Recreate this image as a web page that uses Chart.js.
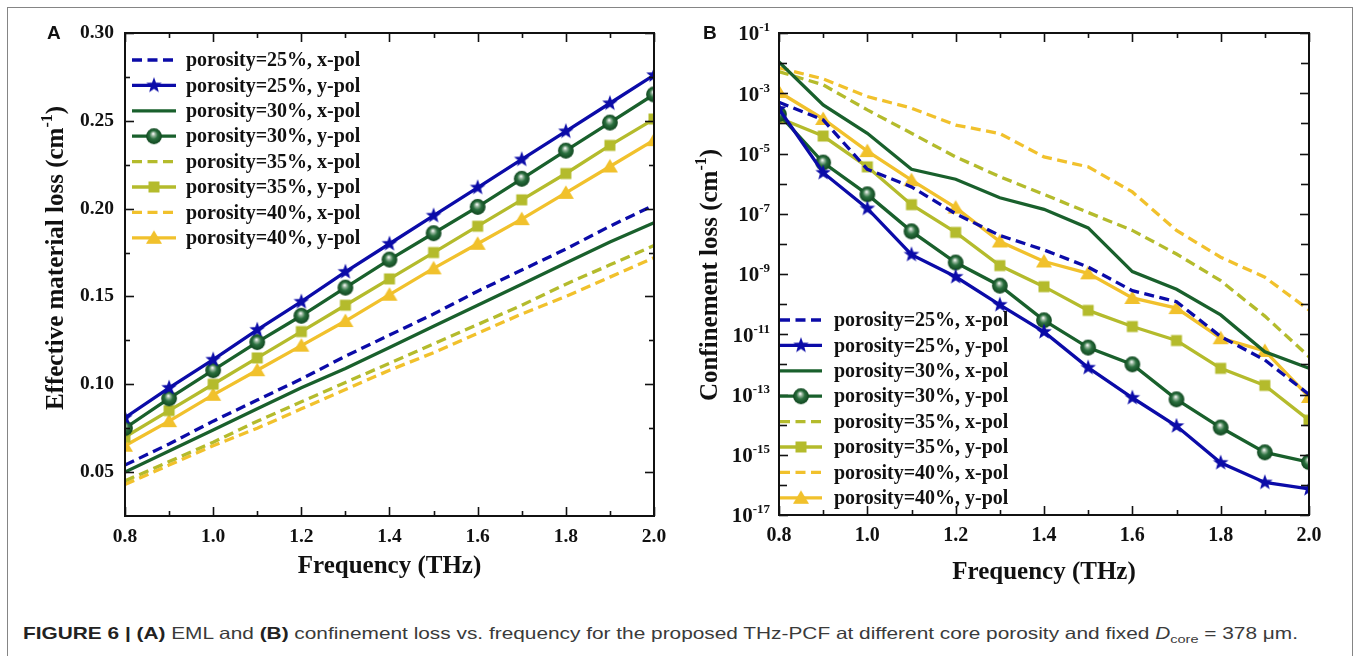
<!DOCTYPE html>
<html>
<head>
<meta charset="utf-8">
<title>Figure 6</title>
<script src="https://cdn.jsdelivr.net/npm/chart.js@4.4.1/dist/chart.umd.min.js"></script>
<style>
  html, body { margin: 0; padding: 0; background: #fff; }
  body { width: 1357px; height: 656px; position: relative; overflow: hidden; }
  #frame { position: absolute; left: 7px; top: 7px; width: 1346px; height: 660px; border: 1px solid #858585; box-sizing: border-box; }
  canvas { position: absolute; top: 0; }
  #chartA { left: 0; }
  #chartB { left: 680px; }
  .tag { position: absolute; top: 22px; font: bold 19px 'Liberation Sans', Arial, sans-serif; color: #111; line-height: 22px; }
  #caption { position: absolute; left: 23px; top: 623px; font: 16.5px 'Liberation Sans', Arial, sans-serif; color: #3a3a3a;
             white-space: nowrap; transform-origin: 0 50%; line-height: 20px; }
  #caption b { color: #222; }
  #caption sub { font-size: 11.5px; line-height: 0; }
</style>
</head>
<body>
<div id="frame"></div>
<canvas id="chartA" width="680" height="600"></canvas>
<canvas id="chartB" width="677" height="600"></canvas>
<div class="tag" style="left:47px">A</div>
<div class="tag" style="left:703px">B</div>
<div id="caption"><b>FIGURE 6 | (A)</b> EML and <b>(B)</b> confinement loss vs. frequency for the proposed THz-PCF at different core porosity and fixed <i>D</i><sub>core</sub> = 378 μm.</div>
<script>
// frequency points (THz)
const freq = [0.8, 0.9, 1.0, 1.1, 1.2, 1.3, 1.4, 1.5, 1.6, 1.7, 1.8, 1.9, 2.0];

const seriesLabels = [
  'porosity=25%, x-pol', 'porosity=25%, y-pol',
  'porosity=30%, x-pol', 'porosity=30%, y-pol',
  'porosity=35%, x-pol', 'porosity=35%, y-pol',
  'porosity=40%, x-pol', 'porosity=40%, y-pol',
];

// (A) effective material loss, cm^-1
const emlX25 = [0.054, 0.066, 0.079, 0.091, 0.103, 0.116, 0.128, 0.140, 0.153, 0.165, 0.177, 0.190, 0.202];
const emlY25 = [0.081, 0.098, 0.114, 0.131, 0.147, 0.164, 0.180, 0.196, 0.212, 0.228, 0.244, 0.260, 0.276];
const emlX30 = [0.050, 0.062, 0.074, 0.086, 0.098, 0.109, 0.121, 0.133, 0.145, 0.157, 0.169, 0.181, 0.192];
const emlY30 = [0.075, 0.092, 0.108, 0.124, 0.139, 0.155, 0.171, 0.186, 0.201, 0.217, 0.233, 0.249, 0.265];
const emlX35 = [0.045, 0.056, 0.067, 0.079, 0.090, 0.101, 0.112, 0.123, 0.134, 0.145, 0.157, 0.168, 0.179];
const emlY35 = [0.070, 0.085, 0.100, 0.115, 0.130, 0.145, 0.160, 0.175, 0.190, 0.205, 0.220, 0.236, 0.251];
const emlX40 = [0.043, 0.054, 0.065, 0.075, 0.086, 0.097, 0.108, 0.118, 0.129, 0.140, 0.150, 0.161, 0.172];
const emlY40 = [0.065, 0.079, 0.094, 0.108, 0.122, 0.136, 0.151, 0.166, 0.180, 0.194, 0.209, 0.224, 0.239];

// (B) confinement loss, cm^-1
const clX25 = [5e-4, 1.3e-4, 3e-6, 7.8e-7, 1.0e-7, 1.9e-8, 6.3e-9, 1.7e-9, 2.8e-10, 1.2e-10, 8.4e-12, 1.4e-12, 1.0e-13];
const clY25 = [3e-4, 2.3e-6, 1.5e-7, 4.4e-9, 8.1e-10, 9.5e-11, 1.2e-11, 7.8e-13, 7.8e-14, 9e-15, 5.4e-16, 1.2e-16, 7.4e-17];
const clX30 = [1.1e-2, 4.1e-4, 4.7e-5, 3.0e-6, 1.4e-6, 3.4e-7, 1.4e-7, 3.4e-8, 1.2e-9, 3.1e-10, 4.4e-11, 2.6e-12, 7.4e-13];
const clY30 = [2e-4, 5e-6, 4.4e-7, 2.6e-8, 2.4e-9, 4.1e-10, 2.9e-11, 3.6e-12, 1.0e-12, 6.9e-14, 8e-15, 1.2e-15, 5.7e-16];
const clX35 = [5.2e-3, 1.9e-3, 2.8e-4, 4.7e-5, 7.7e-6, 1.7e-6, 4.4e-7, 1.1e-7, 2.8e-8, 4.6e-9, 6e-10, 4e-11, 1.8e-12];
const clY35 = [1.5e-4, 3.8e-5, 3.6e-6, 2.0e-7, 2.4e-8, 1.9e-9, 3.8e-10, 6.2e-11, 1.8e-11, 6.2e-12, 7.4e-13, 2.0e-13, 1.4e-14];
const clX40 = [7e-3, 3e-3, 7.8e-4, 3.2e-4, 8.8e-5, 4.6e-5, 7.7e-6, 3.6e-6, 5.3e-7, 2.8e-8, 3.6e-9, 7.8e-10, 6.4e-11];
const clY40 = [1.1e-3, 1.4e-4, 1.2e-5, 1.3e-6, 1.6e-7, 1.2e-8, 2.6e-9, 1.05e-9, 1.6e-10, 7.4e-11, 7.4e-12, 2.8e-12, 8.3e-14];

// ticks
const freqTicks = [0.8, 1.0, 1.2, 1.4, 1.6, 1.8, 2.0];
const freqMinor = [0.9, 1.1, 1.3, 1.5, 1.7, 1.9];
const emlTicks = [0.05, 0.10, 0.15, 0.20, 0.25, 0.30];
const emlMinor = [0.075, 0.125, 0.175, 0.225, 0.275];
const clLabelExp = [-1, -3, -5, -7, -9, -11, -13, -15, -17];
const clMinorExp = [-2, -4, -6, -8, -10, -12, -14, -16];

const BLUE = '#0b0ba8';
const GREEN = '#19602c';
const OLIVE = '#b4bb2c';
const GOLD = '#f1c12c';
const INK = '#111';
const serif = "'Liberation Serif', 'Times New Roman', serif";

// marker sprites
const makeMarker = (size, draw) => {
  const c = document.createElement('canvas');
  c.width = c.height = size;
  draw(c.getContext('2d'), size / 2);
  return c;
};
const starMark = makeMarker(20, (ctx, c) => {
  ctx.beginPath();
  for (let i = 0; i < 10; i++) {
    const r = i % 2 ? 3.4 : 8.2;
    const a = -Math.PI / 2 + (i * Math.PI) / 5;
    ctx.lineTo(c + r * Math.cos(a), c + r * Math.sin(a));
  }
  ctx.closePath();
  ctx.fillStyle = BLUE;
  ctx.fill();
});
const ballMark = makeMarker(20, (ctx, c) => {
  const g = ctx.createRadialGradient(c - 0.8, c - 2.6, 0.4, c, c, 8);
  g.addColorStop(0, '#f4f7f4');
  g.addColorStop(0.22, '#8fb196');
  g.addColorStop(0.5, '#2a6f3e');
  g.addColorStop(1, '#0f451e');
  ctx.beginPath();
  ctx.arc(c, c, 7.9, 0, Math.PI * 2);
  ctx.fillStyle = g;
  ctx.fill();
});
const squareMark = makeMarker(14, (ctx, c) => {
  ctx.fillStyle = OLIVE;
  ctx.fillRect(c - 5.5, c - 5.5, 11, 11);
});
const triMark = makeMarker(18, (ctx, c) => {
  ctx.beginPath();
  ctx.moveTo(c, c - 7.5);
  ctx.lineTo(c + 8, c + 6);
  ctx.lineTo(c - 8, c + 6);
  ctx.closePath();
  ctx.fillStyle = GOLD;
  ctx.fill();
});

const pts = (vals) => freq.map((f, i) => ({ x: f, y: vals[i] }));
const plain = (label, color, vals) => ({
  label, data: pts(vals), borderColor: color, backgroundColor: color,
  borderWidth: 3.3, borderDash: [], pointRadius: 0, tension: 0,
});
const dashed = (label, color, vals) => ({ ...plain(label, color, vals), borderDash: [10, 5.5] });
const marked = (label, color, vals, mark) => ({
  ...plain(label, color, vals), pointStyle: mark, pointRadius: 8, pointHoverRadius: 8,
});

const buildSets = (x25, y25, x30, y30, x35, y35, x40, y40) => [
  dashed(seriesLabels[0], BLUE, x25), marked(seriesLabels[1], BLUE, y25, starMark),
  plain(seriesLabels[2], GREEN, x30), marked(seriesLabels[3], GREEN, y30, ballMark),
  dashed(seriesLabels[4], OLIVE, x35), marked(seriesLabels[5], OLIVE, y35, squareMark),
  dashed(seriesLabels[6], GOLD, x40), marked(seriesLabels[7], GOLD, y40, triMark),
];

// rich text with a superscript part, centred on the origin
const drawRich = (ctx, parts, size) => {
  const big = `bold ${size}px ${serif}`;
  const small = `bold ${Math.round(size * 0.62)}px ${serif}`;
  const widths = parts.map((p) => { ctx.font = p.sup ? small : big; return ctx.measureText(p.t).width; });
  let x = -widths.reduce((a, b) => a + b, 0) / 2;
  ctx.textAlign = 'left';
  ctx.textBaseline = 'middle';
  parts.forEach((p, i) => {
    ctx.font = p.sup ? small : big;
    ctx.fillText(p.t, x, p.sup ? -size * 0.36 : 0);
    x += widths[i];
  });
};

// frame + inward ticks on all four sides
const frameTicks = (cfg) => ({
  id: 'frameTicks',
  afterDatasetsDraw(chart) {
    const { ctx, chartArea: a, scales: { x, y } } = chart;
    ctx.save();
    ctx.strokeStyle = INK;
    ctx.lineWidth = 1.6;
    const seg = (x1, y1, x2, y2) => { ctx.beginPath(); ctx.moveTo(x1, y1); ctx.lineTo(x2, y2); ctx.stroke(); };
    const xt = (vals, len) => vals.forEach((v) => {
      const px = Math.round(x.getPixelForValue(v)) + 0.5;
      seg(px, a.bottom, px, a.bottom - len); seg(px, a.top, px, a.top + len);
    });
    const yt = (vals, len) => vals.forEach((v) => {
      const py = Math.round(y.getPixelForValue(v)) + 0.5;
      seg(a.left, py, a.left + len, py); seg(a.right, py, a.right - len, py);
    });
    xt(cfg.xMajor, 9); xt(cfg.xMinor, 5);
    yt(cfg.yMajor, 9); yt(cfg.yMinor, cfg.yMinorLen);
    ctx.lineWidth = 2;
    ctx.strokeRect(a.left, a.top, a.right - a.left, a.bottom - a.top);
    ctx.restore();
  },
});

const axisTitles = (cfg) => ({
  id: 'axisTitles',
  afterDraw(chart) {
    const { ctx, chartArea: a } = chart;
    ctx.save();
    ctx.fillStyle = INK;
    ctx.translate((a.left + a.right) / 2, cfg.xTitleY);
    drawRich(ctx, cfg.xTitle, 25);
    ctx.setTransform(1, 0, 0, 1, 0, 0);
    ctx.translate(cfg.yTitleX, cfg.yTitleY);
    ctx.rotate(-Math.PI / 2);
    drawRich(ctx, cfg.yTitle, 25);
    ctx.restore();
  },
});

const seriesLegend = (cfg) => ({
  id: 'seriesLegend',
  afterDraw(chart) {
    const { ctx, chartArea: a } = chart;
    ctx.save();
    chart.data.datasets.forEach((ds, i) => {
      const cy = a.top + cfg.top + i * cfg.dy;
      const x0 = a.left + cfg.left;
      ctx.strokeStyle = ds.borderColor;
      ctx.lineWidth = ds.borderWidth;
      ctx.setLineDash(ds.borderDash || []);
      ctx.beginPath(); ctx.moveTo(x0, cy); ctx.lineTo(x0 + cfg.len, cy); ctx.stroke();
      ctx.setLineDash([]);
      if (ds.pointRadius) {
        const m = ds.pointStyle;
        ctx.drawImage(m, x0 + cfg.len / 2 - m.width / 2, cy - m.height / 2);
      }
      ctx.fillStyle = INK;
      ctx.font = `bold 20px ${serif}`;
      ctx.textAlign = 'left';
      ctx.textBaseline = 'middle';
      ctx.fillText(ds.label, x0 + cfg.len + cfg.gap, cy + 1);
    });
    ctx.restore();
  },
});

// 10^n labels for the log axis
const logLabels = (exps) => ({
  id: 'logLabels',
  afterDraw(chart) {
    const { ctx, scales: { y } } = chart;
    ctx.save();
    ctx.fillStyle = INK;
    ctx.textAlign = 'left';
    ctx.textBaseline = 'middle';
    exps.forEach((e) => {
      const py = y.getPixelForValue(Math.pow(10, e));
      const sup = String(e);
      ctx.font = `bold 21px ${serif}`;
      const w1 = ctx.measureText('10').width;
      ctx.font = `bold 13px ${serif}`;
      const w2 = ctx.measureText(sup).width;
      const x0 = y.right - 9 - w1 - w2;
      ctx.font = `bold 21px ${serif}`;
      ctx.fillText('10', x0, py + 2);
      ctx.font = `bold 13px ${serif}`;
      ctx.fillText(sup, x0 + w1, py - 5);
    });
    ctx.restore();
  },
});

const tickFont = (size) => ({ family: serif, size, weight: 'bold', lineHeight: 1 });

const setsA = buildSets(emlX25, emlY25, emlX30, emlY30, emlX35, emlY35, emlX40, emlY40);
const setsB = buildSets(clX25, clY25, clX30, clY30, clX35, clY35, clX40, clY40);

new Chart(document.getElementById('chartA'), {
  type: 'line',
  data: { datasets: setsA },
  options: {
    responsive: false,
    animation: false,
    devicePixelRatio: 1,
    layout: { padding: { top: 33, right: 26, left: 0, bottom: 0 } },
    plugins: { legend: { display: false }, tooltip: { enabled: false } },
    scales: {
      x: {
        type: 'linear', min: 0.8, max: 2.0,
        afterBuildTicks: (s) => { s.ticks = freqTicks.map((v) => ({ value: v })); },
        afterFit: (s) => { s.height = 84; },
        grid: { display: false, drawTicks: false },
        border: { display: false },
        ticks: { font: tickFont(19.5), color: INK, padding: 11, maxRotation: 0, callback: (v) => v.toFixed(1) },
      },
      y: {
        type: 'linear', min: 0.025, max: 0.30,
        afterBuildTicks: (s) => { s.ticks = emlTicks.map((v) => ({ value: v })); },
        afterFit: (s) => { s.width = 125; },
        grid: { display: false, drawTicks: false },
        border: { display: false },
        ticks: { font: tickFont(19.5), color: INK, padding: 11, callback: (v) => v.toFixed(2) },
      },
    },
  },
  plugins: [
    frameTicks({ xMajor: freqTicks, xMinor: freqMinor, yMajor: emlTicks, yMinor: emlMinor, yMinorLen: 5 }),
    axisTitles({
      xTitle: [{ t: 'Frequency (THz)' }], xTitleY: 567,
      yTitle: [{ t: 'Effective material loss (cm' }, { t: '-1', sup: true }, { t: ')' }], yTitleX: 57, yTitleY: 258,
    }),
    seriesLegend({ left: 7, top: 27, dy: 25.4, len: 44, gap: 10 }),
  ],
});

new Chart(document.getElementById('chartB'), {
  type: 'line',
  data: { datasets: setsB },
  options: {
    responsive: false,
    animation: false,
    devicePixelRatio: 1,
    layout: { padding: { top: 33, right: 48, left: 0, bottom: 0 } },
    plugins: { legend: { display: false }, tooltip: { enabled: false } },
    scales: {
      x: {
        type: 'linear', min: 0.8, max: 2.0,
        afterBuildTicks: (s) => { s.ticks = freqTicks.map((v) => ({ value: v })); },
        afterFit: (s) => { s.height = 85; },
        grid: { display: false, drawTicks: false },
        border: { display: false },
        ticks: { font: tickFont(20), color: INK, padding: 11, maxRotation: 0, callback: (v) => v.toFixed(1) },
      },
      y: {
        type: 'logarithmic', min: 1e-17, max: 1e-1,
        afterBuildTicks: (s) => { s.ticks = clLabelExp.concat(clMinorExp).map((e) => ({ value: Math.pow(10, e) })); },
        afterFit: (s) => { s.width = 99; },
        grid: { display: false, drawTicks: false },
        border: { display: false },
        ticks: { display: false },
      },
    },
  },
  plugins: [
    frameTicks({
      xMajor: freqTicks, xMinor: freqMinor,
      yMajor: clLabelExp.map((e) => Math.pow(10, e)), yMinor: clMinorExp.map((e) => Math.pow(10, e)), yMinorLen: 8,
    }),
    axisTitles({
      xTitle: [{ t: 'Frequency (THz)' }], xTitleY: 573,
      yTitle: [{ t: 'Confinement loss (cm' }, { t: '-1', sup: true }, { t: ')' }], yTitleX: 31, yTitleY: 275,
    }),
    logLabels(clLabelExp),
    seriesLegend({ left: 1, top: 287, dy: 25.4, len: 42, gap: 12 }),
  ],
});

// stretch the caption line to the original length
const cap = document.getElementById('caption');
cap.style.transform = `scaleX(${1275 / cap.getBoundingClientRect().width})`;
</script>
</body>
</html>
